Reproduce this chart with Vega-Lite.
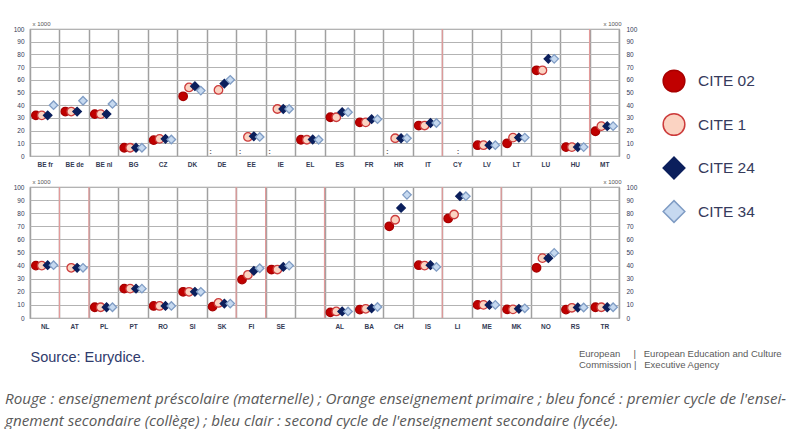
{
  "$schema": "https://vega.github.io/schema/vega-lite/v6.json",
  "padding": {"left": 5, "top": 19, "right": 0, "bottom": 0},
  "background": "white",
  "config": {
    "font": "Liberation Sans",
    "view": {"stroke": "#9a9a9a", "strokeWidth": 1.2},
    "axis": {
      "labelFontSize": 6.5,
      "labelColor": "#333a55",
      "ticks": false,
      "domain": false,
      "gridColor": "#b3b3b3",
      "gridWidth": 1.2,
      "gridOpacity": 1,
      "titleFontSize": 6,
      "titleFontWeight": "normal",
      "titleColor": "#555"
    },
    "legend": {
      "symbolSize": 470,
      "symbolStrokeWidth": 1.5,
      "labelFontSize": 15.5,
      "labelColor": "#363b5c",
      "labelFont": "Liberation Sans",
      "rowPadding": 15.5,
      "labelOffset": 12
    }
  },
  "datasets": {
    "cite": [
      {"panel": "top", "country": "BE fr", "level": "CITE 02", "value": 32},
      {"panel": "top", "country": "BE fr", "level": "CITE 1", "value": 32},
      {"panel": "top", "country": "BE fr", "level": "CITE 24", "value": 32},
      {"panel": "top", "country": "BE fr", "level": "CITE 34", "value": 40},
      {"panel": "top", "country": "BE de", "level": "CITE 02", "value": 35},
      {"panel": "top", "country": "BE de", "level": "CITE 1", "value": 35},
      {"panel": "top", "country": "BE de", "level": "CITE 24", "value": 35},
      {"panel": "top", "country": "BE de", "level": "CITE 34", "value": 43.5},
      {"panel": "top", "country": "BE nl", "level": "CITE 02", "value": 33},
      {"panel": "top", "country": "BE nl", "level": "CITE 1", "value": 33},
      {"panel": "top", "country": "BE nl", "level": "CITE 24", "value": 33},
      {"panel": "top", "country": "BE nl", "level": "CITE 34", "value": 41},
      {"panel": "top", "country": "BG", "level": "CITE 02", "value": 6.5},
      {"panel": "top", "country": "BG", "level": "CITE 1", "value": 6.5},
      {"panel": "top", "country": "BG", "level": "CITE 24", "value": 6.5},
      {"panel": "top", "country": "BG", "level": "CITE 34", "value": 6.5},
      {"panel": "top", "country": "CZ", "level": "CITE 02", "value": 12.5},
      {"panel": "top", "country": "CZ", "level": "CITE 1", "value": 13.5},
      {"panel": "top", "country": "CZ", "level": "CITE 24", "value": 13.5},
      {"panel": "top", "country": "CZ", "level": "CITE 34", "value": 13},
      {"panel": "top", "country": "DK", "level": "CITE 02", "value": 47},
      {"panel": "top", "country": "DK", "level": "CITE 1", "value": 54},
      {"panel": "top", "country": "DK", "level": "CITE 24", "value": 55},
      {"panel": "top", "country": "DK", "level": "CITE 34", "value": 51.5},
      {"panel": "top", "country": "DE", "level": "CITE 1", "value": 52},
      {"panel": "top", "country": "DE", "level": "CITE 24", "value": 57},
      {"panel": "top", "country": "DE", "level": "CITE 34", "value": 60},
      {"panel": "top", "country": "EE", "level": "CITE 1", "value": 15},
      {"panel": "top", "country": "EE", "level": "CITE 24", "value": 15.5},
      {"panel": "top", "country": "EE", "level": "CITE 34", "value": 15},
      {"panel": "top", "country": "IE", "level": "CITE 1", "value": 37},
      {"panel": "top", "country": "IE", "level": "CITE 24", "value": 37},
      {"panel": "top", "country": "IE", "level": "CITE 34", "value": 37},
      {"panel": "top", "country": "EL", "level": "CITE 02", "value": 12.8},
      {"panel": "top", "country": "EL", "level": "CITE 1", "value": 12.8},
      {"panel": "top", "country": "EL", "level": "CITE 24", "value": 13},
      {"panel": "top", "country": "EL", "level": "CITE 34", "value": 12.8},
      {"panel": "top", "country": "ES", "level": "CITE 02", "value": 30.5},
      {"panel": "top", "country": "ES", "level": "CITE 1", "value": 30.5},
      {"panel": "top", "country": "ES", "level": "CITE 24", "value": 34.5},
      {"panel": "top", "country": "ES", "level": "CITE 34", "value": 34.5},
      {"panel": "top", "country": "FR", "level": "CITE 02", "value": 26.5},
      {"panel": "top", "country": "FR", "level": "CITE 1", "value": 26.5},
      {"panel": "top", "country": "FR", "level": "CITE 24", "value": 29},
      {"panel": "top", "country": "FR", "level": "CITE 34", "value": 29},
      {"panel": "top", "country": "HR", "level": "CITE 1", "value": 14},
      {"panel": "top", "country": "HR", "level": "CITE 24", "value": 14},
      {"panel": "top", "country": "HR", "level": "CITE 34", "value": 14},
      {"panel": "top", "country": "IT", "level": "CITE 02", "value": 24},
      {"panel": "top", "country": "IT", "level": "CITE 1", "value": 24},
      {"panel": "top", "country": "IT", "level": "CITE 24", "value": 26},
      {"panel": "top", "country": "IT", "level": "CITE 34", "value": 26},
      {"panel": "top", "country": "LV", "level": "CITE 02", "value": 8.5},
      {"panel": "top", "country": "LV", "level": "CITE 1", "value": 8.5},
      {"panel": "top", "country": "LV", "level": "CITE 24", "value": 8.5},
      {"panel": "top", "country": "LV", "level": "CITE 34", "value": 8.5},
      {"panel": "top", "country": "LT", "level": "CITE 02", "value": 10},
      {"panel": "top", "country": "LT", "level": "CITE 1", "value": 14.5},
      {"panel": "top", "country": "LT", "level": "CITE 24", "value": 14.5},
      {"panel": "top", "country": "LT", "level": "CITE 34", "value": 14.5},
      {"panel": "top", "country": "LU", "level": "CITE 02", "value": 67.5},
      {"panel": "top", "country": "LU", "level": "CITE 1", "value": 67.5},
      {"panel": "top", "country": "LU", "level": "CITE 24", "value": 76.5},
      {"panel": "top", "country": "LU", "level": "CITE 34", "value": 76.5},
      {"panel": "top", "country": "HU", "level": "CITE 02", "value": 7},
      {"panel": "top", "country": "HU", "level": "CITE 1", "value": 7},
      {"panel": "top", "country": "HU", "level": "CITE 24", "value": 7},
      {"panel": "top", "country": "HU", "level": "CITE 34", "value": 7},
      {"panel": "top", "country": "MT", "level": "CITE 02", "value": 19.5},
      {"panel": "top", "country": "MT", "level": "CITE 1", "value": 23.5},
      {"panel": "top", "country": "MT", "level": "CITE 24", "value": 23.5},
      {"panel": "top", "country": "MT", "level": "CITE 34", "value": 23.5},
      {"panel": "bottom", "country": "NL", "level": "CITE 02", "value": 40},
      {"panel": "bottom", "country": "NL", "level": "CITE 1", "value": 40},
      {"panel": "bottom", "country": "NL", "level": "CITE 24", "value": 40.3},
      {"panel": "bottom", "country": "NL", "level": "CITE 34", "value": 40.3},
      {"panel": "bottom", "country": "AT", "level": "CITE 1", "value": 38.3},
      {"panel": "bottom", "country": "AT", "level": "CITE 24", "value": 38.3},
      {"panel": "bottom", "country": "AT", "level": "CITE 34", "value": 38.3},
      {"panel": "bottom", "country": "PL", "level": "CITE 02", "value": 8.2},
      {"panel": "bottom", "country": "PL", "level": "CITE 1", "value": 8.2},
      {"panel": "bottom", "country": "PL", "level": "CITE 24", "value": 8.2},
      {"panel": "bottom", "country": "PL", "level": "CITE 34", "value": 8.2},
      {"panel": "bottom", "country": "PT", "level": "CITE 02", "value": 22.4},
      {"panel": "bottom", "country": "PT", "level": "CITE 1", "value": 22.4},
      {"panel": "bottom", "country": "PT", "level": "CITE 24", "value": 22.4},
      {"panel": "bottom", "country": "PT", "level": "CITE 34", "value": 22.4},
      {"panel": "bottom", "country": "RO", "level": "CITE 02", "value": 9.2},
      {"panel": "bottom", "country": "RO", "level": "CITE 1", "value": 9.2},
      {"panel": "bottom", "country": "RO", "level": "CITE 24", "value": 9.2},
      {"panel": "bottom", "country": "RO", "level": "CITE 34", "value": 9.2},
      {"panel": "bottom", "country": "SI", "level": "CITE 02", "value": 20},
      {"panel": "bottom", "country": "SI", "level": "CITE 1", "value": 20},
      {"panel": "bottom", "country": "SI", "level": "CITE 24", "value": 20},
      {"panel": "bottom", "country": "SI", "level": "CITE 34", "value": 20},
      {"panel": "bottom", "country": "SK", "level": "CITE 02", "value": 8.7},
      {"panel": "bottom", "country": "SK", "level": "CITE 1", "value": 11.5},
      {"panel": "bottom", "country": "SK", "level": "CITE 24", "value": 11},
      {"panel": "bottom", "country": "SK", "level": "CITE 34", "value": 11},
      {"panel": "bottom", "country": "FI", "level": "CITE 02", "value": 29.3},
      {"panel": "bottom", "country": "FI", "level": "CITE 1", "value": 33},
      {"panel": "bottom", "country": "FI", "level": "CITE 24", "value": 36},
      {"panel": "bottom", "country": "FI", "level": "CITE 34", "value": 38},
      {"panel": "bottom", "country": "SE", "level": "CITE 02", "value": 37},
      {"panel": "bottom", "country": "SE", "level": "CITE 1", "value": 37},
      {"panel": "bottom", "country": "SE", "level": "CITE 24", "value": 39},
      {"panel": "bottom", "country": "SE", "level": "CITE 34", "value": 40},
      {"panel": "bottom", "country": "AL", "level": "CITE 02", "value": 4.3},
      {"panel": "bottom", "country": "AL", "level": "CITE 1", "value": 5},
      {"panel": "bottom", "country": "AL", "level": "CITE 24", "value": 5},
      {"panel": "bottom", "country": "AL", "level": "CITE 34", "value": 5},
      {"panel": "bottom", "country": "BA", "level": "CITE 02", "value": 6.4},
      {"panel": "bottom", "country": "BA", "level": "CITE 1", "value": 7},
      {"panel": "bottom", "country": "BA", "level": "CITE 24", "value": 7.4},
      {"panel": "bottom", "country": "BA", "level": "CITE 34", "value": 8.4},
      {"panel": "bottom", "country": "CH", "level": "CITE 02", "value": 70},
      {"panel": "bottom", "country": "CH", "level": "CITE 1", "value": 75},
      {"panel": "bottom", "country": "CH", "level": "CITE 24", "value": 84},
      {"panel": "bottom", "country": "CH", "level": "CITE 34", "value": 94},
      {"panel": "bottom", "country": "IS", "level": "CITE 02", "value": 40.3},
      {"panel": "bottom", "country": "IS", "level": "CITE 1", "value": 40},
      {"panel": "bottom", "country": "IS", "level": "CITE 24", "value": 40.3},
      {"panel": "bottom", "country": "IS", "level": "CITE 34", "value": 39},
      {"panel": "bottom", "country": "LI", "level": "CITE 02", "value": 76},
      {"panel": "bottom", "country": "LI", "level": "CITE 1", "value": 79},
      {"panel": "bottom", "country": "LI", "level": "CITE 24", "value": 93},
      {"panel": "bottom", "country": "LI", "level": "CITE 34", "value": 93},
      {"panel": "bottom", "country": "ME", "level": "CITE 02", "value": 10},
      {"panel": "bottom", "country": "ME", "level": "CITE 1", "value": 10},
      {"panel": "bottom", "country": "ME", "level": "CITE 24", "value": 10},
      {"panel": "bottom", "country": "ME", "level": "CITE 34", "value": 10},
      {"panel": "bottom", "country": "MK", "level": "CITE 02", "value": 6.6},
      {"panel": "bottom", "country": "MK", "level": "CITE 1", "value": 6.6},
      {"panel": "bottom", "country": "MK", "level": "CITE 24", "value": 7},
      {"panel": "bottom", "country": "MK", "level": "CITE 34", "value": 7.4},
      {"panel": "bottom", "country": "NO", "level": "CITE 02", "value": 38.3},
      {"panel": "bottom", "country": "NO", "level": "CITE 1", "value": 45.7},
      {"panel": "bottom", "country": "NO", "level": "CITE 24", "value": 45.7},
      {"panel": "bottom", "country": "NO", "level": "CITE 34", "value": 49.7},
      {"panel": "bottom", "country": "RS", "level": "CITE 02", "value": 6.4},
      {"panel": "bottom", "country": "RS", "level": "CITE 1", "value": 7.8},
      {"panel": "bottom", "country": "RS", "level": "CITE 24", "value": 8},
      {"panel": "bottom", "country": "RS", "level": "CITE 34", "value": 8},
      {"panel": "bottom", "country": "TR", "level": "CITE 02", "value": 8.2},
      {"panel": "bottom", "country": "TR", "level": "CITE 1", "value": 8.2},
      {"panel": "bottom", "country": "TR", "level": "CITE 24", "value": 8.2},
      {"panel": "bottom", "country": "TR", "level": "CITE 34", "value": 8.2}
    ],
    "missing": [
      {"panel": "top", "country": "DE", "level": "CITE 02", "mark": ":"},
      {"panel": "top", "country": "EE", "level": "CITE 02", "mark": ":"},
      {"panel": "top", "country": "IE", "level": "CITE 02", "mark": ":"},
      {"panel": "top", "country": "HR", "level": "CITE 02", "mark": ":"},
      {"panel": "top", "country": "CY", "level": "CITE 24", "mark": ":"}
    ],
    "redsep": [
      {"panel": "top", "country": "CY"},
      {"panel": "top", "country": "MT"},
      {"panel": "bottom", "country": "AT"},
      {"panel": "bottom", "country": "PL"},
      {"panel": "bottom", "country": "FI"},
      {"panel": "bottom", "country": "SE"},
      {"panel": "bottom", "country": "AL"},
      {"panel": "bottom", "country": "LI"},
      {"panel": "bottom", "country": "MK"}
    ]
  },
  "title": {
    "text": [
      "Rouge : enseignement préscolaire (maternelle) ; Orange enseignement primaire ; bleu foncé : premier cycle de l'ensei-",
      "gnement secondaire (collège) ; bleu clair : second cycle de l'enseignement secondaire (lycée)."
    ],
    "orient": "bottom",
    "anchor": "start",
    "frame": "group",
    "dx": -25,
    "offset": 22,
    "font": "Open Sans",
    "fontStyle": "italic",
    "fontWeight": "normal",
    "fontSize": 15.2,
    "lineHeight": 22,
    "color": "#595959"
  },
  "bounds": "flush",
  "spacing": 31,
  "resolve": {"scale": {"x": "independent", "y": "independent", "xOffset": "independent"}},
  "vconcat": [
    {
      "width": 589,
      "height": 127,
      "resolve": {"axis": {"y": "independent"}},
      "layer": [
        {
          "data": {"name": "cite"},
          "transform": [{"filter": "datum.panel == 'top'"}],
          "mark": {"type": "point", "filled": true, "size": 72, "strokeWidth": 1.3, "opacity": 1},
          "encoding": {
            "x": {
              "field": "country", "type": "nominal",
              "scale": {"domain": ["BE fr", "BE de", "BE nl", "BG", "CZ", "DK", "DE", "EE", "IE", "EL", "ES", "FR", "HR", "IT", "CY", "LV", "LT", "LU", "HU", "MT"], "paddingInner": 0, "paddingOuter": 0},
              "axis": {"title": null, "grid": true, "tickBand": "extent", "labelAngle": 0, "labelPadding": 5, "labelFontSize": 6.5, "labelFontWeight": "bold", "gridColor": "#a0a0a0", "gridWidth": 1.5}
            },
            "xOffset": {"field": "level", "type": "nominal", "scale": {"domain": ["CITE 02", "CITE 1", "CITE 24", "CITE 34"], "paddingInner": 0, "paddingOuter": 1.05}},
            "y": {
              "field": "value", "type": "quantitative",
              "scale": {"domain": [0, 100], "nice": false},
              "axis": {"orient": "left", "values": [0, 10, 20, 30, 40, 50, 60, 70, 80, 90, 100], "grid": true, "labelPadding": 6, "title": "x 1000", "titleAngle": 0, "titleAlign": "left", "titleBaseline": "alphabetic", "titleX": 2, "titleY": -4}
            },
            "fill": {"field": "level", "type": "nominal", "title": null,
              "scale": {"domain": ["CITE 02", "CITE 1", "CITE 24", "CITE 34"], "range": ["#c00000", "#fbd3c2", "#0b1f5c", "#c6d9f0"]},
              "legend": {"orient": "none", "legendX": 632, "legendY": 40, "title": null}},
            "stroke": {"field": "level", "type": "nominal", "title": null,
              "scale": {"domain": ["CITE 02", "CITE 1", "CITE 24", "CITE 34"], "range": ["#a80000", "#cc3b3b", "#0b1f5c", "#7f9cc4"]},
              "legend": {"orient": "none", "legendX": 632, "legendY": 40, "title": null}},
            "shape": {"field": "level", "type": "nominal", "title": null,
              "scale": {"domain": ["CITE 02", "CITE 1", "CITE 24", "CITE 34"], "range": ["circle", "circle", "diamond", "diamond"]},
              "legend": {"orient": "none", "legendX": 632, "legendY": 40, "title": null}}
          }
        },
        {
          "data": {"name": "redsep"},
          "transform": [{"filter": "datum.panel == 'top'"}],
          "mark": {"type": "rule", "color": "#e39a9a", "strokeWidth": 1.2},
          "encoding": {"x": {"field": "country", "type": "nominal", "bandPosition": 0}}
        },
        {
          "data": {"name": "missing"},
          "transform": [{"filter": "datum.panel == 'top'"}],
          "mark": {"type": "text", "fontSize": 8, "fontWeight": "bold", "color": "#666", "baseline": "bottom", "dx": -2},
          "encoding": {
            "x": {"field": "country", "type": "nominal"},
            "xOffset": {"field": "level", "type": "nominal"},
            "y": {"datum": 0, "type": "quantitative", "axis": null},
            "text": {"field": "mark"}
          }
        },
        {
          "data": {"name": "cite"},
          "transform": [{"filter": "datum.panel == 'top'"}],
          "mark": {"type": "point", "opacity": 0},
          "encoding": {
            "x": {"field": "country", "type": "nominal"},
            "y": {
              "field": "value", "type": "quantitative",
              "axis": {"orient": "right", "values": [0, 10, 20, 30, 40, 50, 60, 70, 80, 90, 100], "grid": false, "labelPadding": 7, "title": "x 1000", "titleAngle": 0, "titleAlign": "right", "titleBaseline": "alphabetic", "titleX": 2, "titleY": -4}
            }
          }
        }
      ]
    },
    {
      "width": 589,
      "height": 131,
      "resolve": {"axis": {"y": "independent"}},
      "title": {
        "text": ["European\u00a0\u00a0\u00a0\u00a0\u00a0|\u00a0\u00a0\u00a0European Education and Culture", "Commission\u00a0|\u00a0\u00a0\u00a0Executive Agency"],
        "orient": "bottom",
        "anchor": "end",
        "align": "left",
        "frame": "group",
        "dx": -40,
        "offset": -15,
        "fontSize": 9.5,
        "fontWeight": "normal",
        "lineHeight": 11,
        "color": "#5a5a5a"
      },
      "layer": [
        {
          "data": {"name": "cite"},
          "transform": [{"filter": "datum.panel == 'bottom'"}],
          "mark": {"type": "point", "filled": true, "size": 72, "strokeWidth": 1.3, "opacity": 1},
          "encoding": {
            "x": {
              "field": "country", "type": "nominal",
              "scale": {"domain": ["NL", "AT", "PL", "PT", "RO", "SI", "SK", "FI", "SE", " ", "AL", "BA", "CH", "IS", "LI", "ME", "MK", "NO", "RS", "TR"], "paddingInner": 0, "paddingOuter": 0},
              "axis": {"grid": true, "tickBand": "extent", "labelAngle": 0, "labelPadding": 5, "labelFontSize": 6.5, "labelFontWeight": "bold", "gridColor": "#a0a0a0", "gridWidth": 1.5,
                "title": "Source: Eurydice.", "titleX": 0, "titleY": 39, "titleAlign": "left", "titleBaseline": "middle", "titleFontSize": 14.5, "titleColor": "#2f3b6c"}
            },
            "xOffset": {"field": "level", "type": "nominal", "scale": {"domain": ["CITE 02", "CITE 1", "CITE 24", "CITE 34"], "paddingInner": 0, "paddingOuter": 1.05}},
            "y": {
              "field": "value", "type": "quantitative",
              "scale": {"domain": [0, 100], "nice": false},
              "axis": {"orient": "left", "values": [0, 10, 20, 30, 40, 50, 60, 70, 80, 90, 100], "grid": true, "labelPadding": 6, "title": "x 1000", "titleAngle": 0, "titleAlign": "left", "titleBaseline": "alphabetic", "titleX": 2, "titleY": -4}
            },
            "fill": {"field": "level", "type": "nominal", "title": null,
              "scale": {"domain": ["CITE 02", "CITE 1", "CITE 24", "CITE 34"], "range": ["#c00000", "#fbd3c2", "#0b1f5c", "#c6d9f0"]},
              "legend": {"orient": "none", "legendX": 632, "legendY": 40, "title": null}},
            "stroke": {"field": "level", "type": "nominal", "title": null,
              "scale": {"domain": ["CITE 02", "CITE 1", "CITE 24", "CITE 34"], "range": ["#a80000", "#cc3b3b", "#0b1f5c", "#7f9cc4"]},
              "legend": {"orient": "none", "legendX": 632, "legendY": 40, "title": null}},
            "shape": {"field": "level", "type": "nominal", "title": null,
              "scale": {"domain": ["CITE 02", "CITE 1", "CITE 24", "CITE 34"], "range": ["circle", "circle", "diamond", "diamond"]},
              "legend": {"orient": "none", "legendX": 632, "legendY": 40, "title": null}}
          }
        },
        {
          "data": {"name": "redsep"},
          "transform": [{"filter": "datum.panel == 'bottom'"}],
          "mark": {"type": "rule", "color": "#e39a9a", "strokeWidth": 1.2},
          "encoding": {"x": {"field": "country", "type": "nominal", "bandPosition": 0}}
        },
        {
          "data": {"name": "cite"},
          "transform": [{"filter": "datum.panel == 'bottom'"}],
          "mark": {"type": "point", "opacity": 0},
          "encoding": {
            "x": {"field": "country", "type": "nominal"},
            "y": {
              "field": "value", "type": "quantitative",
              "axis": {"orient": "right", "values": [0, 10, 20, 30, 40, 50, 60, 70, 80, 90, 100], "grid": false, "labelPadding": 7, "title": "x 1000", "titleAngle": 0, "titleAlign": "right", "titleBaseline": "alphabetic", "titleX": 2, "titleY": -4}
            }
          }
        }
      ]
    }
  ]
}
